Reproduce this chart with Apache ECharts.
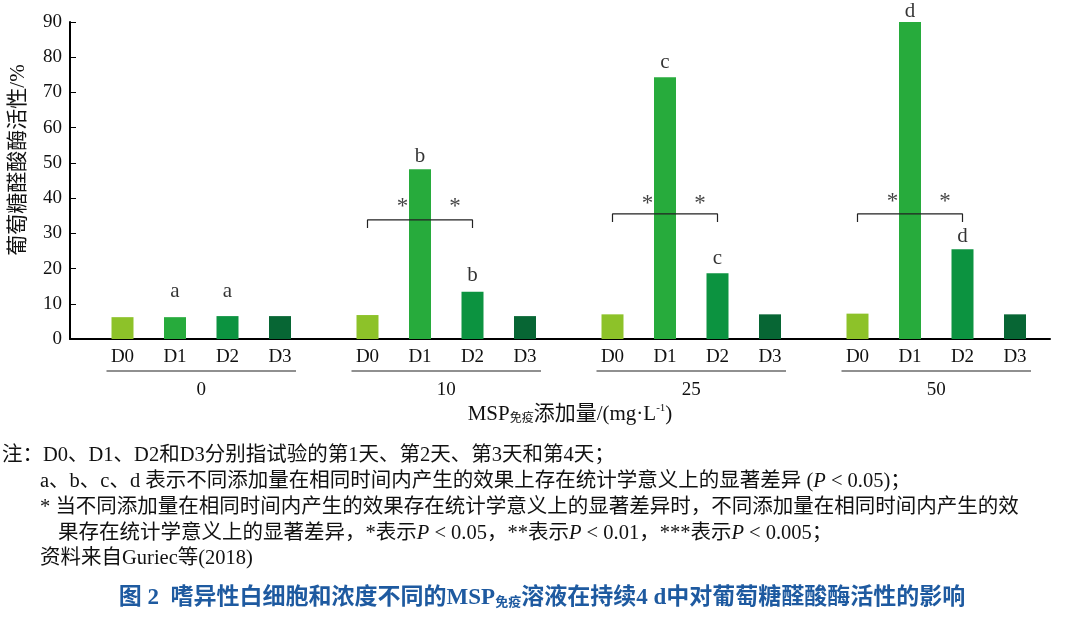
<!DOCTYPE html>
<html>
<head>
<meta charset="utf-8">
<script src="https://cdn.jsdelivr.net/npm/echarts@6/dist/echarts.min.js"></script>
<style>body{margin:0;background:#fff}#c{width:1080px;height:620px}</style>
</head>
<body>
<div id="c"></div>
<script>
// doses and days
var doses = ['0', '10', '25', '50'];
var days = ['D0', 'D1', 'D2', 'D3'];
// activity values per dose group, D0..D3
var vals0 = [6.2, 6.2, 6.5, 6.5];
var vals10 = [6.8, 48.2, 13.4, 6.5];
var vals25 = [7.0, 74.3, 18.7, 7.0];
var vals50 = [7.2, 90.0, 25.5, 7.0];
// significance letters (text, height) for D1 and D2
var letters = ['a', 'b', 'c', 'd'];
var letterD1 = [13.4, 51.7, 78.4, 93.0];
var letterD2 = [13.4, 17.9, 23.0, 29.0];
// bracket heights for groups 10, 25, 50 (top, tick end, star)
var bracketTop = [33.8, 35.5, 35.5];
var bracketEnd = [31.5, 33.2, 33.2];
var starY = [37.5, 38.3, 39.0];
var yTicks = [0, 10, 20, 30, 40, 50, 60, 70, 80, 90];

var colors = ['#8dc229', '#27ab3c', '#0c9340', '#076634'];
var font = '"Liberation Serif", "Noto Sans CJK SC", serif';
var allVals = [vals0, vals10, vals25, vals50];

// category slots: 3 leading blanks, days 3 slots apart, 5 slots between groups
var N = 57;
var cats = [];
for (var i = 0; i < N; i++) cats.push('');
function idx(g, d) { return 3 + g * 14 + d * 3; }
for (var g = 0; g < 4; g++) for (var d = 0; d < 4; d++) cats[idx(g, d)] = days[d];

var series = [];
for (var d = 0; d < 4; d++) {
  var data = [];
  for (var g = 0; g < 4; g++) data.push([idx(g, d), allVals[g][d]]);
  series.push({type: 'bar', data: data, barWidth: 22, barGap: '-100%', itemStyle: {color: colors[d]}, silent: true});
}
var letterData = [];
for (var g = 0; g < 4; g++) {
  letterData.push({value: [idx(g, 1), letterD1[g]], label: {formatter: letters[g]}});
  letterData.push({value: [idx(g, 2), letterD2[g]], label: {formatter: letters[g]}});
}
series.push({type: 'scatter', symbolSize: 0, clip: false, data: letterData,
  label: {show: true, position: 'inside', fontFamily: font, fontSize: 21, color: '#000'}});
var starData = [];
for (var g = 1; g < 4; g++) {
  series.push({type: 'line', symbol: 'none', silent: true, lineStyle: {color: '#222', width: 1.2},
    data: [[idx(g, 0), bracketEnd[g - 1]], [idx(g, 0), bracketTop[g - 1]], [idx(g, 2), bracketTop[g - 1]], [idx(g, 2), bracketEnd[g - 1]]]});
  starData.push([idx(g, 0) + 1.5, starY[g - 1]]);
  starData.push([idx(g, 1) + 1.5, starY[g - 1]]);
}
series.push({type: 'scatter', symbolSize: 0, data: starData,
  label: {show: true, position: 'inside', formatter: '*', fontFamily: font, fontSize: 23, color: '#111'}});

var chart = echarts.init(document.getElementById('c'));
chart.setOption({
  animation: false,
  grid: {left: 70, right: 30, top: 22, bottom: 281},
  xAxis: {type: 'category', data: cats, boundaryGap: false,
    axisLine: {lineStyle: {color: '#000', width: 2}}, axisTick: {show: false},
    axisLabel: {interval: 0, fontFamily: font, fontSize: 19, color: '#111', margin: 9}},
  yAxis: {type: 'value', min: 0, max: 90, interval: 10,
    axisLine: {show: true, lineStyle: {color: '#000', width: 2}},
    axisTick: {show: true, inside: true, length: 6, lineStyle: {color: '#000'}},
    splitLine: {show: false},
    axisLabel: {fontFamily: font, fontSize: 19, color: '#111', margin: 8,
      formatter: function (v) { return yTicks.indexOf(v) >= 0 ? String(v) : ''; }}},
  series: series
});

// group underlines and labels placed through the axis scale
var gfx = [];
for (var g = 0; g < 4; g++) {
  var x0 = chart.convertToPixel({xAxisIndex: 0}, idx(g, 0)) - 16;
  var x1 = chart.convertToPixel({xAxisIndex: 0}, idx(g, 3)) + 16;
  gfx.push({type: 'line', shape: {x1: x0, y1: 371, x2: x1, y2: 371}, style: {stroke: '#222', lineWidth: 1.2}});
  gfx.push({type: 'text', x: (x0 + x1) / 2, y: 390, style: {text: doses[g], font: '19px ' + font, fill: '#111', align: 'center', verticalAlign: 'middle'}});
}
var noteFont = '20.5px ' + font;
function note(x, y, t) {
  gfx.push({type: 'text', x: x, y: y, style: {text: t, font: noteFont, fill: '#111', verticalAlign: 'middle',
    rich: {i: {font: 'italic 20.5px ' + font}}}});
}
gfx.push({type: 'text', x: 570, y: 414, style: {text: 'MSP{s|免疫}添加量/(mg·L{p|-1})', font: '21px ' + font, fill: '#111', align: 'center', verticalAlign: 'middle',
  rich: {s: {font: '12px ' + font, padding: [9, 0, 0, 0]}, p: {font: '11px ' + font, padding: [0, 0, 11, 0]}}}});
gfx.push({type: 'text', x: 18, y: 160, rotation: Math.PI / 2, style: {text: '葡萄糖醛酸酶活性/%', font: '21px ' + font, fill: '#111', align: 'center', verticalAlign: 'middle'}});
note(2, 456, '注：D0、D1、D2和D3分别指试验的第1天、第2天、第3天和第4天；');
note(40, 482, 'a、b、c、d 表示不同添加量在相同时间内产生的效果上存在统计学意义上的显著差异 ({i|P} < 0.05)；');
note(40, 508, '* 当不同添加量在相同时间内产生的效果存在统计学意义上的显著差异时，不同添加量在相同时间内产生的效');
note(58, 534, '果存在统计学意义上的显著差异，*表示{i|P} < 0.05，**表示{i|P} < 0.01，***表示{i|P} < 0.005；');
note(40, 559, '资料来自Guriec等(2018)');
gfx.push({type: 'text', x: 542, y: 598, style: {text: '图 2  嗜异性白细胞和浓度不同的MSP{s|免疫}溶液在持续4 d中对葡萄糖醛酸酶活性的影响',
  font: 'bold 23px ' + font, fill: '#1e5aa0', align: 'center', verticalAlign: 'middle',
  rich: {s: {font: 'bold 13px ' + font, fill: '#1e5aa0', padding: [10, 0, 0, 0]}}}});
chart.setOption({graphic: gfx});
</script>
</body>
</html>
